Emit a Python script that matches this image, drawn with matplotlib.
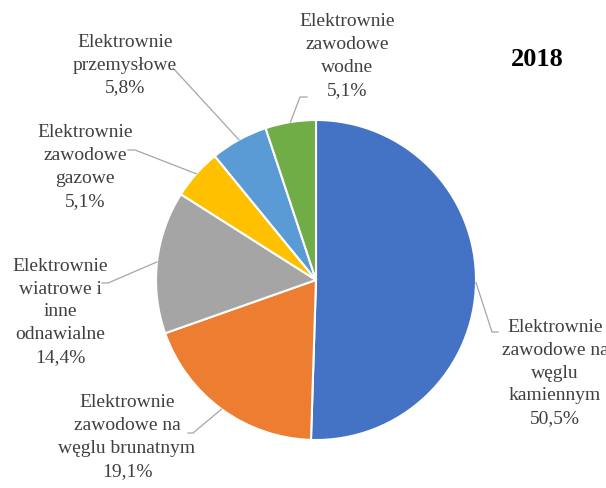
import numpy as np
import matplotlib
matplotlib.use("Agg")
from matplotlib import pyplot as plt

# struktura produkcji energii elektrycznej, 2018
labels = ['Elektrownie\nzawodowe na\nwęglu\nkamiennym',
          'Elektrownie\nzawodowe na\nwęglu brunatnym',
          'Elektrownie\nwiatrowe i\ninne\nodnawialne',
          'Elektrownie\nzawodowe\ngazowe',
          'Elektrownie\nprzemysłowe',
          'Elektrownie\nzawodowe\nwodne']
shares = [50.5, 19.1, 14.4, 5.1, 5.8, 5.1]
colors = ['#4472C4', '#ED7D31', '#A5A5A5', '#FFC000', '#5B9BD5', '#70AD47']
year = '2018'

W, H = 606, 488
plt.rcParams['font.family'] = ['Liberation Serif', 'DejaVu Serif']

fig = plt.figure(figsize=(W/100, H/100), dpi=100)
ax = fig.add_axes([0, 0, 1, 1])

cx, cy, r = 316, H - 280, 160
wedges, _ = ax.pie(shares, colors=colors, startangle=90, counterclock=False,
                   center=(cx, cy), radius=r,
                   wedgeprops=dict(edgecolor='white', linewidth=1.5))
ax.set_xlim(0, W)
ax.set_ylim(0, H)
ax.axis('off')

# polozenie etykiet (srodek tekstu) i punkty zalamania linii, w pikselach od gory
label_pos = [(555, 373), (127, 437), (60, 312), (85, 167), (125, 65), (347, 56)]
leader_pts = [[(492, 332), (498, 332)],
              [(193, 433), (188, 433)],
              [(108, 283), (102, 283)],
              [(135, 150), (128, 150)],
              [(173, 68)],
              [(300, 97), (307, 97)]]

for w, lab, val, (tx, ty), pts in zip(wedges, labels, shares, label_pos, leader_pts):
    ang = np.deg2rad((w.theta1 + w.theta2) / 2)
    ex, ey = cx + r*np.cos(ang), cy + r*np.sin(ang)
    xs = [ex] + [p[0] for p in pts]
    ys = [ey] + [H - p[1] for p in pts]
    ax.plot(xs, ys, color='#A6A6A6', lw=0.9)
    txt = lab + '\n' + ('%.1f%%' % val).replace('.', ',')
    ax.text(tx, H - ty, txt, ha='center', va='center', fontsize=14,
            color='#404040', linespacing=1.46)

ax.text(537, H - 59, year, ha='center', va='center', fontsize=19,
        fontweight='bold', color='black')

fig.savefig('out.png', dpi=100)
